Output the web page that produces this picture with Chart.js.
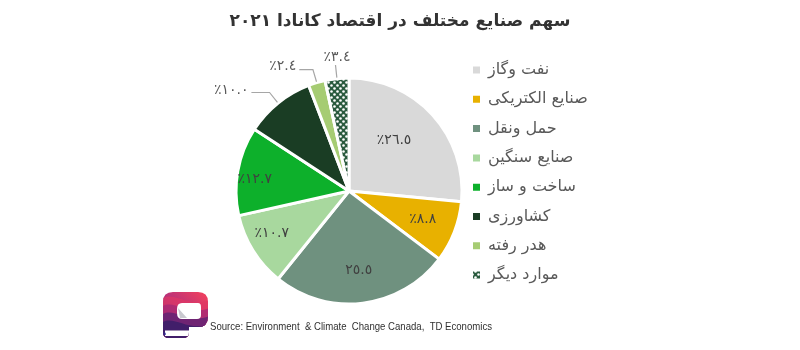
<!DOCTYPE html>
<html lang="fa">
<head>
<meta charset="utf-8">
<title>سهم صنایع مختلف در اقتصاد کانادا</title>
<script src="https://cdn.jsdelivr.net/npm/chart.js@4.4.1/dist/chart.umd.min.js"></script>
<style>
  html, body { margin: 0; padding: 0; background: #fff; }
  #nemodar { display: block; }
</style>
</head>
<body>
<canvas id="nemodar" width="800" height="350"></canvas>
<script>
// بخش‌ها و سهم هر کدام از اقتصاد (درصد)
const sectors = ['نفت وگاز', 'صنایع الکتریکی', 'حمل ونقل', 'صنایع سنگین', 'ساخت و ساز', 'کشاورزی', 'هدر رفته', 'موارد دیگر'];
const shares = [26.5, 8.8, 25.5, 10.7, 12.7, 10.0, 2.4, 3.4];
const withPercent = [true, true, false, true, true, true, true, true];
const chartTitle = 'سهم صنایع مختلف در اقتصاد کانادا ٢٠٢١';
const sourceNote = 'Source: Environment  & Climate  Change Canada,  TD Economics';

const FONT = "'DejaVu Sans', sans-serif";
const LEGEND_SIZE = 16;
const LEGEND_PAD = 13.3;
const PIE_LEFT = 238.3, PIE_RIGHT = 459.7;

// بافت نقطه‌ای برای «موارد دیگر»
function makeDots() {
    const c = document.createElement('canvas');
    c.width = 6; c.height = 6;
    const g = c.getContext('2d');
    g.fillStyle = '#2a5a3e';
    g.fillRect(0, 0, 6, 6);
    g.fillStyle = '#ffffff';
    g.beginPath(); g.arc(1.5, 1.5, 1.3, 0, Math.PI * 2); g.fill();
    g.beginPath(); g.arc(4.5, 4.5, 1.3, 0, Math.PI * 2); g.fill();
    return g.createPattern(c, 'repeat');
}

const colors = ['#d9d9d9', '#e8b100', '#6f917f', '#a8d89e', '#0db02b', '#1a3d24', '#a6cc73', makeDots()];

// جای برچسب هر برش: نسبت شعاع و چرخش (درجه) از وسط برش
const labelPos = [
    { r: 0.60, da: -6 },
    { r: 0.70, da: 0 },
    { r: 0.71, da: 0 },
    { r: 0.78, da: 3 },
    { r: 0.84, da: -3.5 },
    { r: 1.37, da: -10.7, out: true },
    { r: 1.25, da: -11.4, out: true },
    { r: 1.19, da: 1, out: true }
];

// پهنای راهنما تا متن‌ها بریده نشوند
function legendWidth() {
    const g = document.createElement('canvas').getContext('2d');
    g.font = LEGEND_SIZE + 'px ' + FONT;
    const tw = Math.max(...sectors.map(s => g.measureText(s).width));
    return LEGEND_PAD + 7 + LEGEND_SIZE / 2 + tw + 6;
}
const legendW = legendWidth();

function toArabicDigits(s) {
    return s.replace(/[0-9]/g, d => '٠١٢٣٤٥٦٧٨٩'[d]);
}

// برچسب درصدها و خط‌های راهنما
const barchasbha = {
    id: 'barchasbha',
    afterDatasetsDraw(chart) {
        const ctx = chart.ctx;
        const meta = chart.getDatasetMeta(0);
        ctx.save();
        ctx.font = '14px ' + FONT;
        ctx.textAlign = 'center';
        ctx.textBaseline = 'middle';
        ctx.direction = 'ltr';
        meta.data.forEach((arc, i) => {
            const p = arc.getProps(['x', 'y', 'startAngle', 'endAngle', 'outerRadius'], true);
            const mid = (p.startAngle + p.endAngle) / 2;
            const a = mid + labelPos[i].da * Math.PI / 180;
            const lx = p.x + Math.cos(a) * p.outerRadius * labelPos[i].r;
            const ly = p.y + Math.sin(a) * p.outerRadius * labelPos[i].r;
            const text = (withPercent[i] ? '٪' : '') + toArabicDigits(shares[i].toFixed(1));
            if (labelPos[i].out) {
                const w = ctx.measureText(text).width;
                const ex = p.x + Math.cos(mid) * (p.outerRadius + 1);
                const ey = p.y + Math.sin(mid) * (p.outerRadius + 1);
                const kx = p.x + Math.cos(mid) * p.outerRadius * 1.12;
                const ky = p.y + Math.sin(mid) * p.outerRadius * 1.12;
                ctx.strokeStyle = '#a6a6a6';
                ctx.lineWidth = 1.2;
                ctx.beginPath();
                ctx.moveTo(ex, ey);
                ctx.lineTo(kx, ky);
                const endX = lx + w / 2 + 3;
                if (endX < kx - 2) ctx.lineTo(endX, ky);
                else ctx.lineTo(kx, ly + 8);
                ctx.stroke();
                ctx.fillStyle = '#595959';
            } else {
                ctx.fillStyle = '#404040';
            }
            ctx.fillText(text, lx, ly);
        });
        ctx.restore();
    }
};

// لوگو
function drawLogo(ctx, x, y) {
    ctx.save();
    ctx.beginPath();
    ctx.moveTo(x + 10, y);
    ctx.lineTo(x + 35, y);
    ctx.quadraticCurveTo(x + 45, y, x + 45, y + 10);
    ctx.lineTo(x + 45, y + 25);
    ctx.quadraticCurveTo(x + 45, y + 35, x + 35, y + 35);
    ctx.lineTo(x + 26, y + 35);
    ctx.lineTo(x + 26, y + 40);
    ctx.quadraticCurveTo(x + 26, y + 46, x + 20, y + 46);
    ctx.lineTo(x + 6, y + 46);
    ctx.quadraticCurveTo(x, y + 46, x, y + 40);
    ctx.lineTo(x, y + 10);
    ctx.quadraticCurveTo(x, y, x + 10, y);
    ctx.closePath();
    ctx.clip();
    const g = ctx.createLinearGradient(x + 40, y, x, y + 46);
    g.addColorStop(0, '#f0405e');
    g.addColorStop(0.45, '#b8327a');
    g.addColorStop(1, '#3b2470');
    ctx.fillStyle = g;
    ctx.fillRect(x, y, 46, 46);
    // موج‌های رنگی
    const waves = ['rgba(225,55,100,0.7)', 'rgba(160,40,120,0.7)', 'rgba(95,35,115,0.8)', 'rgba(60,30,105,0.9)'];
    waves.forEach((c, k) => {
        ctx.fillStyle = c;
        ctx.beginPath();
        ctx.moveTo(x, y + 6 + k * 8);
        ctx.bezierCurveTo(x + 12, y + k * 8, x + 26, y + 16 + k * 8, x + 46, y + 8 + k * 8);
        ctx.lineTo(x + 46, y + 46);
        ctx.lineTo(x, y + 46);
        ctx.closePath();
        ctx.fill();
    });
    // حباب سفید
    ctx.fillStyle = '#ffffff';
    ctx.beginPath();
    ctx.moveTo(x + 19, y + 11);
    ctx.lineTo(x + 35, y + 11);
    ctx.quadraticCurveTo(x + 38, y + 11, x + 38, y + 15);
    ctx.lineTo(x + 38, y + 23);
    ctx.quadraticCurveTo(x + 38, y + 27, x + 34, y + 27);
    ctx.lineTo(x + 19, y + 27);
    ctx.quadraticCurveTo(x + 14, y + 27, x + 14, y + 21);
    ctx.lineTo(x + 14, y + 17);
    ctx.quadraticCurveTo(x + 14, y + 11, x + 19, y + 11);
    ctx.fill();
    ctx.fillStyle = '#c9c9cf';
    ctx.beginPath();
    ctx.moveTo(x + 15, y + 16);
    ctx.lineTo(x + 24, y + 26);
    ctx.lineTo(x + 17, y + 26);
    ctx.closePath();
    ctx.fill();
    // نوار نام
    ctx.fillStyle = '#ffffff';
    ctx.fillRect(x + 2, y + 38.5, 24, 5.5);
    ctx.fillStyle = '#2c2f9a';
    ctx.font = 'bold 4.5px ' + FONT;
    ctx.textBaseline = 'middle';
    ctx.fillText('Parsicanada', x + 3, y + 41.4);
    ctx.restore();
}

// عنوان بالا، لوگو و منبع در پایین
const matnha = {
    id: 'matnha',
    afterDraw(chart) {
        const ctx = chart.ctx;
        ctx.save();
        ctx.font = 'bold 17px ' + FONT;
        ctx.fillStyle = '#333333';
        ctx.textAlign = 'center';
        ctx.textBaseline = 'middle';
        ctx.direction = 'rtl';
        ctx.fillText(chartTitle, 400, 22);
        ctx.restore();

        drawLogo(ctx, 163, 292);

        ctx.save();
        ctx.font = "11px 'Liberation Sans', Arial, sans-serif";
        ctx.fillStyle = '#303030';
        ctx.textBaseline = 'alphabetic';
        ctx.textAlign = 'left';
        ctx.direction = 'ltr';
        ctx.fillText(sourceNote, 210, 330, 282);
        ctx.restore();
    }
};

const nemodar = new Chart(document.getElementById('nemodar'), {
    type: 'pie',
    data: {
        labels: sectors,
        datasets: [{
            data: shares,
            backgroundColor: colors,
            borderColor: '#ffffff',
            borderWidth: 3
        }]
    },
    options: {
        responsive: false,
        animation: false,
        radius: 113,
        layout: {
            padding: { left: PIE_LEFT, right: 800 - PIE_RIGHT - legendW, top: 48.7, bottom: 16.7 }
        },
        plugins: {
            title: { display: false },
            legend: {
                position: 'right',
                align: 'start',
                fullSize: false,
                maxWidth: legendW,
                textDirection: 'rtl',
                labels: {
                    boxWidth: 7,
                    boxHeight: 7,
                    padding: LEGEND_PAD,
                    color: '#595959',
                    font: { family: FONT, size: LEGEND_SIZE },
                    generateLabels(chart) {
                        const items = Chart.overrides.doughnut.plugins.legend.labels.generateLabels(chart);
                        items.forEach(it => { it.lineWidth = 0; });
                        return items;
                    }
                }
            },
            tooltip: { enabled: false }
        }
    },
    plugins: [barchasbha, matnha]
});
</script>
</body>
</html>
